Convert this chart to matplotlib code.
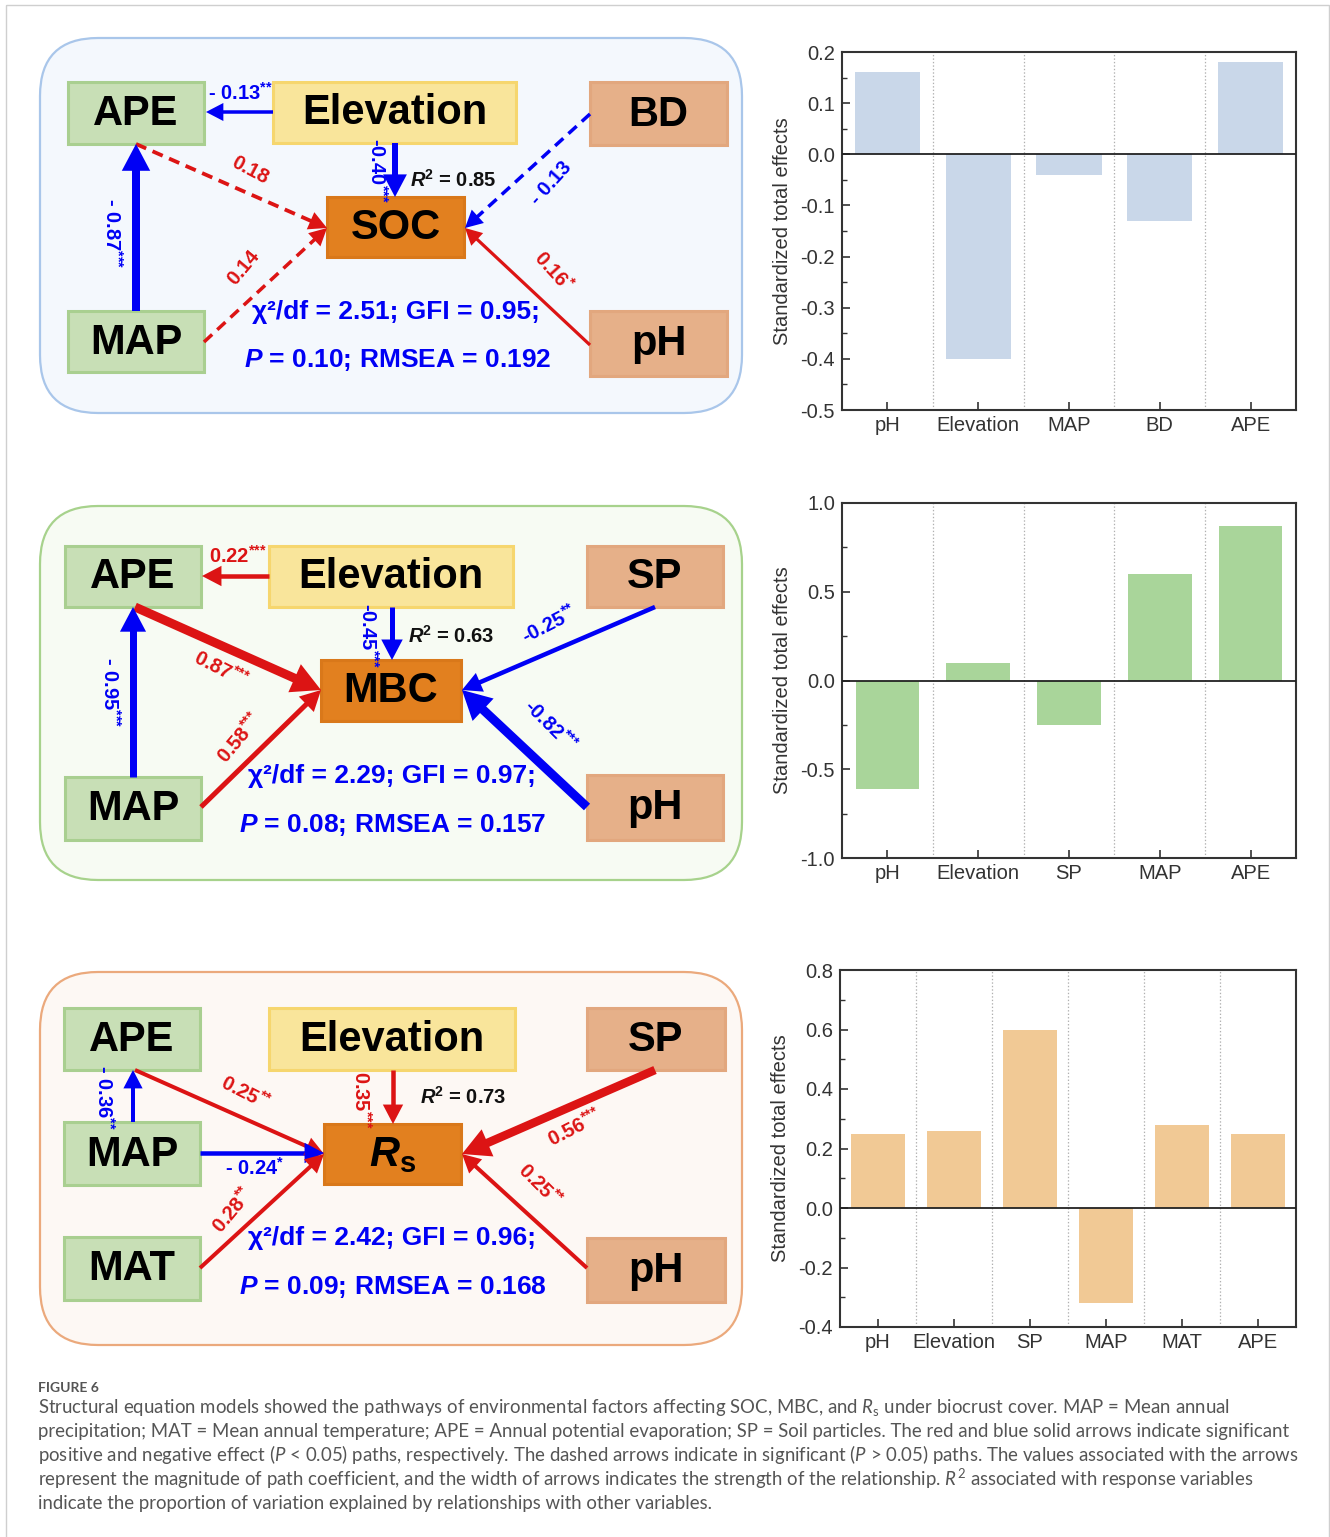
import matplotlib
matplotlib.use('Agg')
import matplotlib.pyplot as plt
from matplotlib.patches import Rectangle, FancyBboxPatch, Polygon
import numpy as np

plt.rcParams.update({
    'font.family': ['Liberation Sans', 'DejaVu Sans'],
    'mathtext.fontset': 'custom',
    'mathtext.rm': 'Liberation Sans:bold',
    'mathtext.it': 'Lato:italic',
    'mathtext.bf': 'Liberation Sans:bold',
    'mathtext.sf': 'Lato',
    'axes.unicode_minus': False,
    'lines.scale_dashes': False,
})
try:
    plt.rcParams['mathtext.bfit'] = 'Liberation Sans:bold:italic'
    BFIT = r'\mathbfit'
except KeyError:
    BFIT = r'\mathit'

# ---------------- data: bar charts ----------------
soc_factors = ['pH', 'Elevation', 'MAP', 'BD', 'APE']
soc_effects = [0.16, -0.40, -0.04, -0.13, 0.18]

mbc_factors = ['pH', 'Elevation', 'SP', 'MAP', 'APE']
mbc_effects = [-0.61, 0.10, -0.25, 0.60, 0.87]

rs_factors = ['pH', 'Elevation', 'SP', 'MAP', 'MAT', 'APE']
rs_effects = [0.25, 0.26, 0.60, -0.32, 0.28, 0.25]

# ---------------- data: SEM text ----------------
soc_fit = ['χ²/df = 2.51; GFI = 0.95;', '$' + BFIT + '{P}$ = 0.10; RMSEA = 0.192']
mbc_fit = ['χ²/df = 2.29; GFI = 0.97;', '$' + BFIT + '{P}$ = 0.08; RMSEA = 0.157']
rs_fit = ['χ²/df = 2.42; GFI = 0.96;', '$' + BFIT + '{P}$ = 0.09; RMSEA = 0.168']
soc_r2 = '0.85'
mbc_r2 = '0.63'
rs_r2 = '0.73'


def st(n):
    return '$^{\\text{' + '*' * n + '}}$'


BLUE = '#0000f5'
RED = '#dc1414'
C = {'b': BLUE, 'r': RED, 'k': '#111111'}
NODE = {
    'green': ('#c8dfb6', '#a9cf90'),
    'yellow': ('#f9e59b', '#f6d66e'),
    'tan': ('#e6b089', '#e2a77e'),
    'orange': ('#e2801f', '#d9781a'),
}

fig = plt.figure(figsize=(13.3, 15.37), dpi=100)
ax0 = fig.add_axes([0, 0, 1, 1])
ax0.set_xlim(0, 1330)
ax0.set_ylim(1537, 0)
ax0.axis('off')

ax0.add_patch(Rectangle((6, 5), 1323, 1540, fill=False, ec='#cfcfcf', lw=1.0))


def arrow(p0, p1, color, w, dashed=False):
    x0, y0 = p0
    x1, y1 = p1
    d = np.hypot(x1 - x0, y1 - y0)
    ux, uy = (x1 - x0) / d, (y1 - y0) / d
    hl = 10 + 2.1 * w
    hw = 5 + 1.15 * w
    bx, by = x1 - ux * hl, y1 - uy * hl
    kw = dict(color=color, lw=w * 0.72, solid_capstyle='butt', zorder=3)
    if dashed:
        kw['dashes'] = (8, 5)
    ax0.plot([x0, bx + ux * 2], [y0, by + uy * 2], **kw)
    px, py = -uy, ux
    tri = [(x1, y1), (bx + px * hw, by + py * hw), (bx - px * hw, by - py * hw)]
    ax0.add_patch(Polygon(tri, closed=True, fc=color, ec='none', zorder=4))


def panel(box, face, edge, nodes, arrows, labels, fit, fitpos):
    x, y, w, h = box
    ax0.add_patch(FancyBboxPatch((x, y), w, h, boxstyle='round,pad=0,rounding_size=58',
                                 fc=face, ec=edge, lw=1.6, zorder=1))
    for name, (nx, ny, nw, nh, kind) in nodes.items():
        fc, ec = NODE[kind]
        ax0.add_patch(Rectangle((nx, ny), nw, nh, fc=fc, ec=ec, lw=2.2, zorder=2))
        ax0.text(nx + nw / 2, ny + nh / 2 + 1, name, ha='center', va='center',
                 fontsize=30, fontweight='bold', color='black', zorder=5)
    for p0, p1, c, wd, ds in arrows:
        arrow(p0, p1, C[c], wd, ds)
    for t, tx, ty, rot, c in labels:
        ax0.text(tx, ty, t, ha='center', va='center', rotation=rot, rotation_mode='anchor',
                 fontsize=14.5, fontweight='bold', color=C[c], zorder=6)
    for t, (fx, fy) in zip(fit, fitpos):
        ax0.text(fx, fy, t, ha='center', va='center', fontsize=19,
                 fontweight='bold', color=BLUE, zorder=6)


R2 = '$' + BFIT + '{R}^{2}$ = '

# Panel 1: SOC
panel((40, 38, 702, 375), '#f4f8fd', '#a9c6ea',
      {'APE': (68, 82, 136, 62, 'green'), 'Elevation': (273, 82, 243, 61, 'yellow'),
       'BD': (590, 82, 137, 63, 'tan'), 'SOC': (327, 197, 137, 60, 'orange'),
       'MAP': (68, 311, 136, 61, 'green'), 'pH': (590, 311, 137, 65, 'tan')},
      [((273, 112), (206, 112), 'b', 3.5, False),
       ((395, 143), (395, 197), 'b', 6, False),
       ((590, 114), (465, 228), 'b', 3.5, True),
       ((136, 144), (327, 228), 'r', 3.8, True),
       ((204, 342), (327, 228), 'r', 3.5, True),
       ((590, 345), (465, 228), 'r', 3.2, False),
       ((136, 311), (136, 144), 'b', 8, False)],
      [('- 0.13' + st(2), 240, 93, 0, 'b'),
       ('-0.40' + st(3), 377, 170, -90, 'b'),
       (R2 + soc_r2, 453, 180, 0, 'k'),
       ('0.18', 250, 170, -28, 'r'),
       ('- 0.13', 551, 183, 48, 'b'),
       ('0.14', 244, 268, 50, 'r'),
       ('0.16' + st(1), 553, 272, -48, 'r'),
       ('- 0.87' + st(3), 112, 233, -90, 'b')],
      soc_fit, [(396, 312), (398, 360)])

# Panel 2: MBC
panel((40, 506, 702, 374), '#f7fbf3', '#a7d28c',
      {'APE': (65, 546, 136, 61, 'green'), 'Elevation': (269, 546, 244, 61, 'yellow'),
       'SP': (587, 546, 136, 61, 'tan'), 'MBC': (321, 660, 140, 61, 'orange'),
       'MAP': (65, 777, 136, 63, 'green'), 'pH': (587, 775, 136, 65, 'tan')},
      [((269, 576), (202, 576), 'r', 4.5, False),
       ((392, 607), (392, 660), 'b', 5, False),
       ((655, 607), (462, 690), 'b', 4.5, False),
       ((587, 807), (462, 690), 'b', 9, False),
       ((135, 607), (321, 690), 'r', 9, False),
       ((201, 807), (321, 690), 'r', 5, False),
       ((133, 777), (133, 607), 'b', 7, False)],
      [('0.22' + st(3), 238, 556, 0, 'r'),
       ('-0.45' + st(3), 368, 635, -90, 'b'),
       (R2 + mbc_r2, 451, 636, 0, 'k'),
       ('-0.25' + st(2), 549, 625, 27, 'b'),
       ('0.87' + st(3), 221, 669, -27, 'r'),
       ('0.58' + st(3), 240, 738, 50, 'r'),
       ('-0.82' + st(3), 550, 726, -45, 'b'),
       ('- 0.95' + st(3), 110, 692, -90, 'b')],
      mbc_fit, [(392, 776), (393, 825)])

# Panel 3: Rs
panel((40, 972, 702, 373), '#fdf8f4', '#eba97c',
      {'APE': (64, 1008, 136, 62, 'green'), 'Elevation': (269, 1008, 246, 62, 'yellow'),
       'SP': (587, 1008, 138, 62, 'tan'),
       'MAP': (64, 1122, 136, 63, 'green'),
       '$' + BFIT + '{R}_{\\mathbf{s}}$': (324, 1124, 137, 60, 'orange'),
       'MAT': (64, 1237, 136, 63, 'green'), 'pH': (587, 1238, 138, 64, 'tan')},
      [((133, 1122), (133, 1070), 'b', 4, False),
       ((135, 1070), (324, 1154), 'r', 4, False),
       ((393, 1070), (393, 1124), 'r', 4.5, False),
       ((655, 1070), (462, 1154), 'r', 8.5, False),
       ((200, 1153), (324, 1153), 'b', 4.5, False),
       ((200, 1268), (324, 1154), 'r', 4, False),
       ((587, 1268), (462, 1154), 'r', 4, False)],
      [('- 0.36' + st(2), 104, 1097, -90, 'b'),
       ('0.25' + st(2), 245, 1093, -27, 'r'),
       ('0.35' + st(3), 361, 1100, -90, 'r'),
       (R2 + rs_r2, 463, 1097, 0, 'k'),
       ('0.56' + st(3), 575, 1128, 27, 'r'),
       ('- 0.24' + st(1), 255, 1168, 0, 'b'),
       ('0.28' + st(2), 233, 1210, 50, 'r'),
       ('0.25' + st(2), 540, 1185, -45, 'r')],
      rs_fit, [(392, 1238), (393, 1287)])


# ---------------- bar charts ----------------
def bar_panel(px_box, cats, vals, color, ylim, step, width):
    l, t, r, b = px_box
    ax = fig.add_axes([l / 1330, 1 - b / 1537, (r - l) / 1330, (b - t) / 1537])
    x = np.arange(len(cats))
    ax.bar(x, vals, width=width, color=color, zorder=2)
    ax.axhline(0, color='#222222', lw=1.3, zorder=3)
    for s in np.arange(len(cats) - 1) + 0.5:
        ax.axvline(s, color='#b0b0b0', lw=0.9, ls=(0, (1, 1.5)), zorder=1)
    ax.set_xlim(-0.5, len(cats) - 0.5)
    ax.set_ylim(*ylim)
    ax.set_xticks(x)
    ax.set_xticklabels(cats)
    yt = np.round(np.arange(ylim[0], ylim[1] + step / 2, step), 2)
    ax.set_yticks(yt)
    ax.set_yticklabels([('%.1f' % v).replace('-0.0', '0.0') for v in yt])
    ax.set_yticks(np.round(np.arange(ylim[0], ylim[1] + step / 4, step / 2), 3), minor=True)
    ax.tick_params(axis='both', which='major', direction='in', length=6, width=1.2,
                   labelsize=14.5, colors='#333333', pad=5)
    ax.tick_params(axis='y', which='minor', direction='in', length=3.5, width=1.0, colors='#333333')
    ax.tick_params(axis='x', which='major', pad=4)
    for sp in ax.spines.values():
        sp.set_color('#333333')
        sp.set_linewidth(1.5)
    ax.set_ylabel('Standardized total effects', fontsize=14.5, color='#333333', labelpad=6)
    return ax


bar_panel((842, 52, 1296, 410), soc_factors, soc_effects, '#c9d7e9', (-0.5, 0.2), 0.1, 0.72)
bar_panel((842, 503, 1296, 858), mbc_factors, mbc_effects, '#a9d59a', (-1.0, 1.0), 0.5, 0.70)
bar_panel((840, 970, 1296, 1327), rs_factors, rs_effects, '#f1c995', (-0.4, 0.8), 0.2, 0.70)

# ---------------- caption ----------------
ax0.text(38, 1388, 'FIGURE 6', fontsize=10, fontweight='bold', color='#555555',
         family=['Lato', 'DejaVu Sans'], va='center', ha='left')
caption = [
    'Structural equation models showed the pathways of environmental factors affecting SOC, MBC, and $R_{\\mathsf{s}}$ under biocrust cover. MAP = Mean annual',
    'precipitation; MAT = Mean annual temperature; APE = Annual potential evaporation; SP = Soil particles. The red and blue solid arrows indicate significant',
    'positive and negative effect ($P$ < 0.05) paths, respectively. The dashed arrows indicate in significant ($P$ > 0.05) paths. The values associated with the arrows',
    'represent the magnitude of path coefficient, and the width of arrows indicates the strength of the relationship. $R^{\\mathsf{2}}$ associated with response variables',
    'indicate the proportion of variation explained by relationships with other variables.',
]
for i, line in enumerate(caption):
    ax0.text(38, 1407 + 24 * i, line, fontsize=13.4, color='#555555',
             family=['Lato', 'DejaVu Sans'], va='center', ha='left')

fig.savefig('out.png', dpi=100)
